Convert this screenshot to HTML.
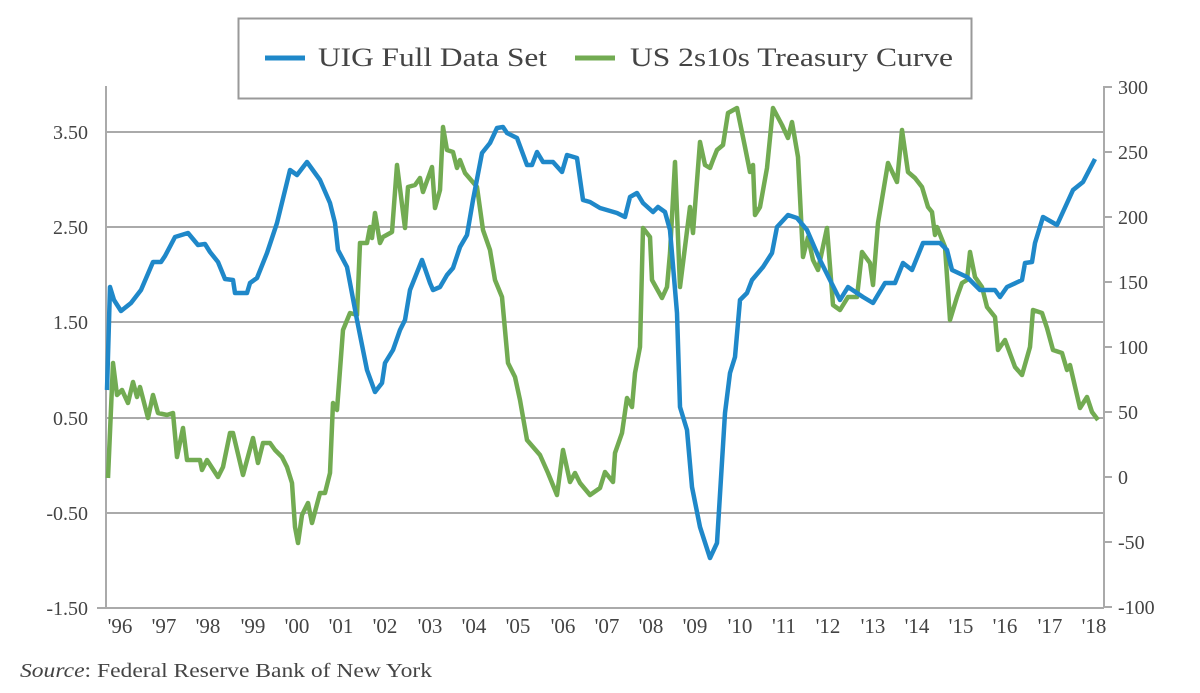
<!DOCTYPE html>
<html><head><meta charset="utf-8"><style>
body{margin:0;background:#fff}
svg{display:block}
text{font-family:"Liberation Serif",serif;fill:#444}
</style></head><body>
<svg width="1200" height="693" viewBox="0 0 1200 693">
<rect x="238.5" y="18.5" width="733" height="80" fill="#fff" stroke="#999" stroke-width="2"/>
<line x1="265" y1="58" x2="305" y2="58" stroke="#1f88c9" stroke-width="5"/>
<text x="318" y="66" font-size="26" fill="#333" textLength="229" lengthAdjust="spacingAndGlyphs">UIG Full Data Set</text>
<line x1="575" y1="58" x2="615" y2="58" stroke="#72ab52" stroke-width="5"/>
<text x="630" y="66" font-size="26" fill="#333" textLength="323" lengthAdjust="spacingAndGlyphs">US 2s10s Treasury Curve</text>
<g stroke="#aaa" stroke-width="2">
<line x1="106" y1="132" x2="1104" y2="132"/>
<line x1="106" y1="227" x2="1104" y2="227"/>
<line x1="106" y1="322" x2="1104" y2="322"/>
<line x1="106" y1="418" x2="1104" y2="418"/>
<line x1="106" y1="513" x2="1104" y2="513"/>
<line x1="97" y1="608" x2="1104" y2="608"/>
<line x1="106" y1="86" x2="106" y2="608"/>
<line x1="1104" y1="86" x2="1104" y2="608"/>
<line x1="1104" y1="87" x2="1112" y2="87"/>
<line x1="1104" y1="152" x2="1112" y2="152"/>
<line x1="1104" y1="217" x2="1112" y2="217"/>
<line x1="1104" y1="282" x2="1112" y2="282"/>
<line x1="1104" y1="347" x2="1112" y2="347"/>
<line x1="1104" y1="412" x2="1112" y2="412"/>
<line x1="1104" y1="477" x2="1112" y2="477"/>
<line x1="1104" y1="542" x2="1112" y2="542"/>
<line x1="1104" y1="607" x2="1112" y2="607"/>
</g>
<g font-size="20" text-anchor="end">
<text x="88" y="139">3.50</text><text x="88" y="234">2.50</text><text x="88" y="329">1.50</text>
<text x="88" y="425">0.50</text><text x="88" y="520">-0.50</text><text x="88" y="615">-1.50</text>
</g>
<g font-size="20">
<text x="1118" y="94">300</text><text x="1118" y="159">250</text><text x="1118" y="224">200</text>
<text x="1118" y="289">150</text><text x="1118" y="354">100</text><text x="1118" y="419">50</text>
<text x="1118" y="484">0</text><text x="1118" y="549">-50</text><text x="1118" y="614">-100</text>
</g>
<g font-size="21" text-anchor="middle">
<text x="120" y="633">'96</text><text x="164" y="633">'97</text><text x="208" y="633">'98</text><text x="253" y="633">'99</text>
<text x="297" y="633">'00</text><text x="341" y="633">'01</text><text x="385" y="633">'02</text><text x="430" y="633">'03</text>
<text x="474" y="633">'04</text><text x="518" y="633">'05</text><text x="563" y="633">'06</text><text x="607" y="633">'07</text>
<text x="651" y="633">'08</text><text x="695" y="633">'09</text><text x="740" y="633">'10</text><text x="784" y="633">'11</text>
<text x="828" y="633">'12</text><text x="873" y="633">'13</text><text x="917" y="633">'14</text><text x="961" y="633">'15</text>
<text x="1005" y="633">'16</text><text x="1050" y="633">'17</text><text x="1094" y="633">'18</text>
</g>
<text x="20" y="677" font-size="20" textLength="412" lengthAdjust="spacingAndGlyphs"><tspan font-style="italic">Source</tspan>: Federal Reserve Bank of New York</text>
<polyline fill="none" stroke="#72ab52" stroke-width="4.5" stroke-linejoin="round" points="108,478 113,363 117,395 122,390 128,403 133,382 137,397 140,387 148,418 153,395 158,413 167,415 173,413 177,457 183,428 187,460 200,460 202,470 207,460 218,477 223,467 230,433 233,433 243,475 253,438 258,463 263,443 270,443 275,450 282,457 287,467 292,483 295,527 298,543 302,515 308,503 312,523 320,493 325,493 330,473 333,403 337,410 343,330 350,313 357,315 360,243 367,243 370,227 372,238 375,213 380,243 383,237 392,232 397,165 405,228 408,187 415,185 420,178 423,192 432,167 435,208 440,190 443,127 447,150 453,152 457,168 460,160 465,173 477,187 483,230 490,250 495,280 502,297 508,363 515,377 520,400 527,440 540,455 548,473 557,495 563,450 570,482 575,473 580,483 590,495 600,488 605,472 613,482 615,453 622,433 627,398 632,407 635,373 640,347 643,228 650,237 652,280 662,298 667,287 670,253 675,162 680,287 690,207 693,233 700,142 705,165 710,168 713,160 717,150 723,145 728,113 737,108 745,147 750,172 753,165 755,215 760,207 767,168 773,108 782,125 788,138 792,122 798,157 803,257 808,237 813,260 818,270 827,228 833,305 840,310 848,297 857,297 862,252 870,263 873,285 878,223 888,163 897,182 902,130 908,172 915,178 922,187 928,207 932,212 935,235 937,227 945,247 950,320 957,297 962,283 967,280 970,252 975,277 982,287 987,307 995,317 998,350 1005,340 1015,367 1022,375 1030,347 1033,310 1042,313 1047,328 1053,350 1062,353 1067,370 1070,365 1080,408 1087,397 1092,412 1098,420"/>
<polyline fill="none" stroke="#1f88c9" stroke-width="4.5" stroke-linejoin="round" points="107,390 110,287 114,300 121,311 131,303 141,290 153,262 161,262 165,256 175,237 188,233 198,245 205,244 210,252 218,262 225,279 233,280 235,293 247,293 250,283 257,278 267,253 277,223 290,170 297,175 307,162 320,180 330,203 335,223 338,250 347,267 357,320 367,370 375,392 382,383 385,363 393,350 400,330 405,320 410,290 422,260 430,283 433,290 440,287 447,275 453,268 460,247 467,235 473,200 482,153 490,143 497,128 503,127 507,133 517,138 527,165 532,165 537,152 543,162 553,162 562,172 567,155 577,158 583,200 590,202 600,208 617,213 625,217 630,197 637,193 643,203 653,212 658,207 665,212 670,230 677,313 680,407 687,430 692,487 700,527 710,558 717,543 725,413 730,373 735,357 740,300 747,293 752,280 763,267 772,253 777,227 788,215 797,218 807,230 820,260 830,280 840,300 848,287 863,297 873,303 885,283 895,283 903,263 912,270 923,243 940,243 947,250 952,270 967,277 980,290 995,290 1000,297 1007,287 1022,280 1025,263 1032,262 1035,243 1043,217 1057,225 1073,190 1083,182 1095,159"/>
</svg>
</body></html>
